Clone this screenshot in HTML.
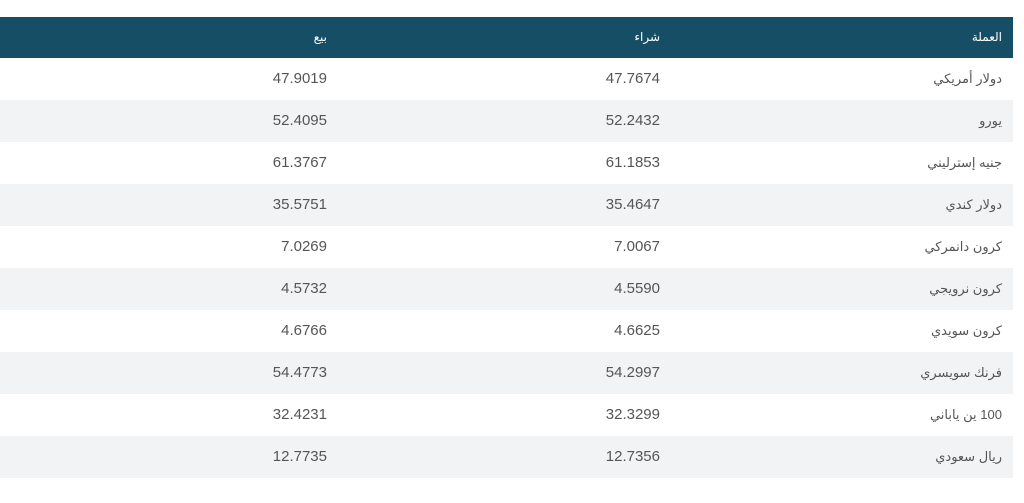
<!DOCTYPE html>
<html><head><meta charset="utf-8"><style>
body{margin:0;background:#fff;width:1024px;height:503px;overflow:hidden;font-family:"Liberation Sans","DejaVu Sans",sans-serif;}
.t{position:absolute;left:0;top:17px;width:1013px;}
.r{height:42px;position:relative;}
.h{height:41px;background:#164e66;color:#fff;font-size:12px;}
.g{background:#f2f3f5;}
.c{position:absolute;top:0;line-height:42px;text-align:right;color:#555;font-size:13px;direction:rtl;}
.h .c{color:#fff;line-height:40px;font-size:12px;}
.c1{right:11px;width:300px;}
.c2,.c3{font-size:15px;direction:ltr;}
.c2{right:353px;width:300px;}
.c3{right:686px;width:300px;}
.h .c2,.h .c3{direction:rtl;font-size:12px;}
</style></head><body>
<div class="t">
<div class="r h"><div class="c c1">العملة</div><div class="c c2">شراء</div><div class="c c3">بيع</div></div>
<div class="r"><div class="c c1">دولار أمريكي</div><div class="c c2">47.7674</div><div class="c c3">47.9019</div></div>
<div class="r g"><div class="c c1">يورو</div><div class="c c2">52.2432</div><div class="c c3">52.4095</div></div>
<div class="r"><div class="c c1">جنيه إسترليني</div><div class="c c2">61.1853</div><div class="c c3">61.3767</div></div>
<div class="r g"><div class="c c1">دولار كندي</div><div class="c c2">35.4647</div><div class="c c3">35.5751</div></div>
<div class="r"><div class="c c1">كرون دانمركي</div><div class="c c2">7.0067</div><div class="c c3">7.0269</div></div>
<div class="r g"><div class="c c1">كرون نرويجي</div><div class="c c2">4.5590</div><div class="c c3">4.5732</div></div>
<div class="r"><div class="c c1">كرون سويدي</div><div class="c c2">4.6625</div><div class="c c3">4.6766</div></div>
<div class="r g"><div class="c c1">فرنك سويسري</div><div class="c c2">54.2997</div><div class="c c3">54.4773</div></div>
<div class="r"><div class="c c1">100 ين ياباني</div><div class="c c2">32.3299</div><div class="c c3">32.4231</div></div>
<div class="r g"><div class="c c1">ريال سعودي</div><div class="c c2">12.7356</div><div class="c c3">12.7735</div></div>
</div>
</body></html>
